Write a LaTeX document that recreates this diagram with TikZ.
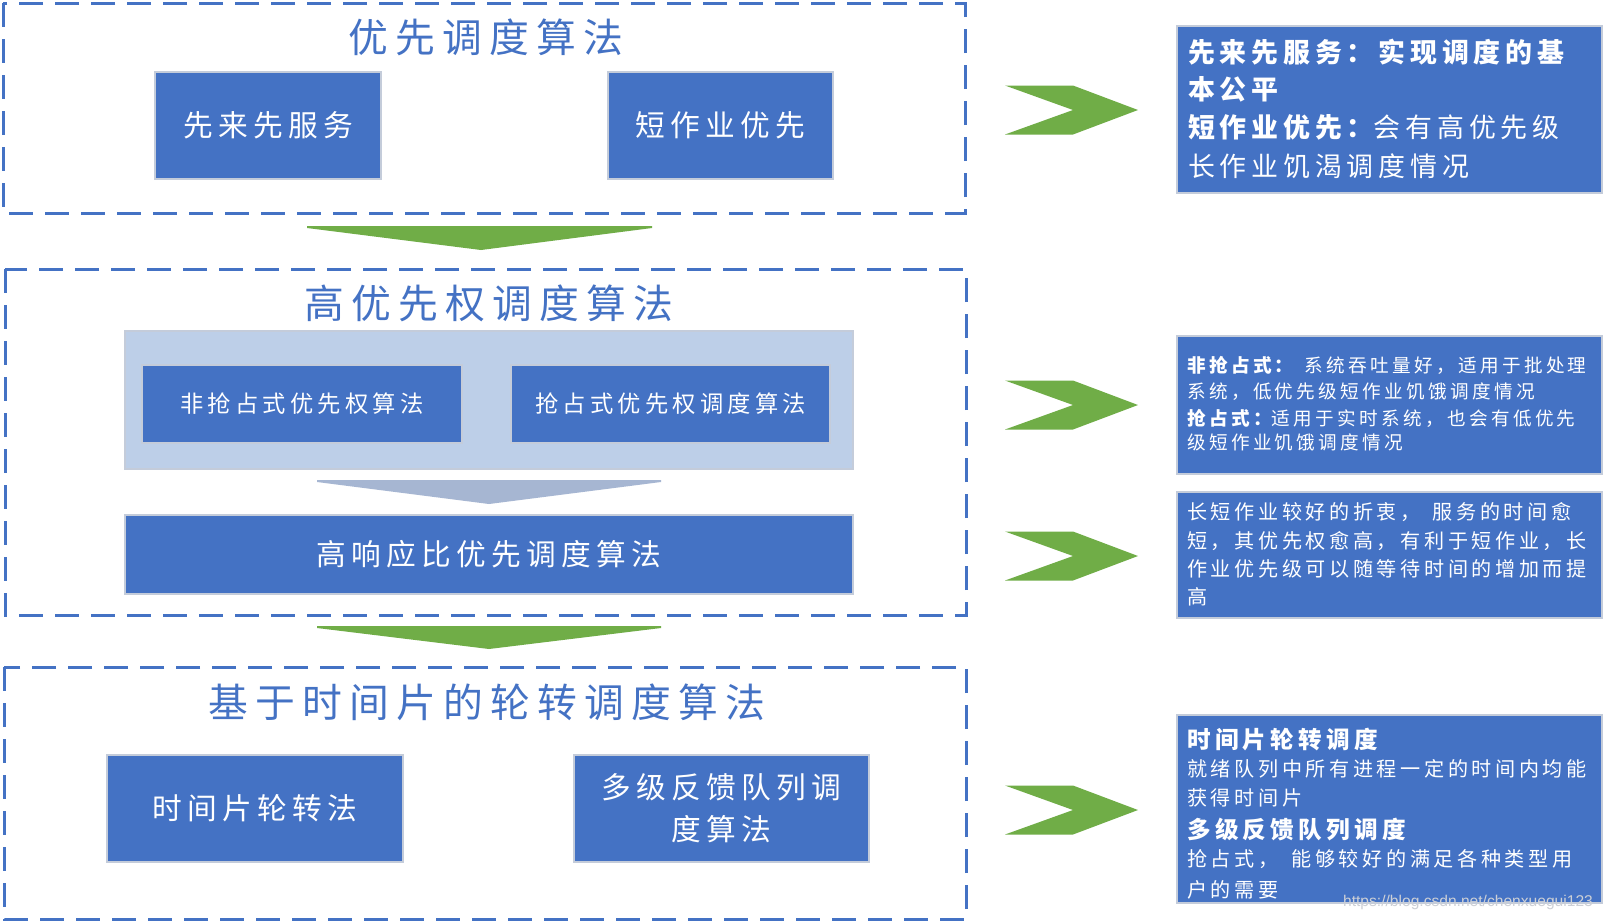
\documentclass[tikz,border=0pt]{standalone}
\usepackage{fontspec}
\newfontfamily\cjk[LetterSpace=18]{Noto Sans CJK SC}
\newfontfamily\wmfont{Liberation Sans}
\newcommand\myfs[1]{\fontsize{#1}{#1}\selectfont}
\definecolor{blueC}{HTML}{4472C4}
\definecolor{edgeC}{RGB}{196,204,218}
\definecolor{greenC}{HTML}{70AD47}
\definecolor{paleC}{RGB}{189,207,232}
\definecolor{grayArrow}{RGB}{166,182,210}
\tikzset{
  dashbox/.style={draw=blueC, line width=3pt, dash pattern=on 24pt off 12pt},
  bluebox/.style={fill=blueC, draw=edgeC, line width=1.2pt, inner sep=0pt, text=white},
  ttl/.style={text=blueC, inner sep=0pt, font=\cjk\myfs{39.8}},
  bigtxt/.style={font=\cjk\myfs{29.7}},
  midtxt/.style={font=\cjk\myfs{23.3}},
  chev/.style={fill=greenC},
  rline/.style={anchor=west, inner sep=0pt, text=white},
  rA/.style={rline, font=\cjk\myfs{26.9}},
  rB/.style={rline, font=\cjk\myfs{18.6}},
  rC/.style={rline, font=\cjk\myfs{20.1}},
  rH/.style={rline, font=\cjk\bfseries\myfs{23.6}},
}
\begin{document}
\begin{tikzpicture}[x=1pt,y=-1pt]
\useasboundingbox (0,0) rectangle (1605,922);
\fill[white] (0,0) rectangle (1605,922);

% dashed groups
\draw[dashbox] (3,3) rectangle (965,213);
\draw[dashbox] (5,269) rectangle (966,615);
\draw[dashbox] (4,667) rectangle (966,919);

% titles
\node[ttl] (t1) at (486,37) {优先调度算法};
\node[ttl] (t2) at (489,303) {高优先权调度算法};
\node[ttl] (t3) at (487,702) {基于时间片的轮转调度算法};

% group 1
\node[bluebox, bigtxt, minimum width=226pt, minimum height=107pt] (fcfs) at (268,125.5) {先来先服务};
\node[bluebox, bigtxt, minimum width=225pt, minimum height=107pt] (sjf) at (720.5,125.5) {短作业优先};

% arrow 1
\fill[greenC] (307,226) -- (652,226) -- (652,228) -- (481,250) -- (307,228) -- cycle;

% group 2
\node[fill=paleC, draw=edgeC, line width=1.2pt, minimum width=728pt, minimum height=138pt, inner sep=0pt] (panel) at (489,400) {};
\node[bluebox, midtxt, minimum width=320pt, minimum height=78pt] (np) at (302,404) {非抢占式优先权算法};
\node[bluebox, midtxt, minimum width=319pt, minimum height=78pt] (pp) at (670.5,404) {抢占式优先权调度算法};
\fill[grayArrow] (317,480) -- (661,480) -- (661,482) -- (489,504) -- (317,482) -- cycle;
\node[bluebox, bigtxt, minimum width=728pt, minimum height=79pt] (hrrn) at (489,554.5) {高响应比优先调度算法};

% arrow 2
\fill[greenC] (317,626) -- (661,626) -- (661,628) -- (489,649) -- (317,628) -- cycle;

% group 3
\node[bluebox, bigtxt, minimum width=296pt, minimum height=107pt] (rr) at (255,808.5) {时间片轮转法};
\node[bluebox, bigtxt, minimum width=295pt, minimum height=107pt, align=center] (mlfq) at (721.5,808.5) {多级反馈队列调\\[12pt]度算法};

% chevrons
\foreach \yc in {110,405,556,810}{
  \fill[chev] (1005,\yc-24.5) -- (1073,\yc-24.5) -- (1138,\yc) -- (1073,\yc+24.5) -- (1005,\yc+24.5) -- (1073,\yc) -- cycle;
}

% right boxes
\node[bluebox, minimum width=425pt, minimum height=167pt] (R1) at (1389.5,109.5) {};
\node[bluebox, minimum width=425pt, minimum height=138pt] (R2) at (1389.5,405) {};
\node[bluebox, minimum width=425pt, minimum height=126pt] (R3) at (1389.5,555) {};
\node[bluebox, minimum width=425pt, minimum height=188pt] (R4) at (1389.5,809) {};

\node[rA] (r1a) at (1188,52.5) {\bfseries 先来先服务：实现调度的基};
\node[rA] (r1b) at (1188,89) {\bfseries 本公平};
\node[rA] (r1c) at (1188,127) {{\bfseries 短作业优先：}会有高优先级};
\node[rA] (r1d) at (1188,166) {长作业饥渴调度情况};

\node[rB] (r2a) at (1187,365) {{\bfseries 非抢占式：}\hspace{11pt}系统吞吐量好，适用于批处理};
\node[rB] (r2b) at (1187,392) {系统，低优先级短作业饥饿调度情况};
\node[rB] (r2c) at (1187,418) {{\bfseries 抢占式：}适用于实时系统，也会有低优先};
\node[rB] (r2d) at (1187,442) {级短作业饥饿调度情况};

\node[rC] (r3a) at (1187,512) {长短作业较好的折衷，\hspace{12pt}服务的时间愈};
\node[rC] (r3b) at (1187,541) {短，其优先权愈高，有利于短作业，长};
\node[rC] (r3c) at (1187,569) {作业优先级可以随等待时间的增加而提};
\node[rC] (r3d) at (1187,597) {高};

\node[rH] (r4a) at (1187,740) {时间片轮转调度};
\node[rC] (r4b) at (1187,769) {就绪队列中所有进程一定的时间内均能};
\node[rC] (r4c) at (1187,798) {获得时间片};
\node[rH] (r4d) at (1187,830) {多级反馈队列调度};
\node[rC] (r4e) at (1187,859) {抢占式，\hspace{13pt}能够较好的满足各种类型用};
\node[rC] (r4f) at (1187,890) {户的需要};

\node[font=\wmfont\myfs{15.6}, text={rgb,255:red,205;green,208;blue,214}, inner sep=0pt] (wm) at (1468,902) {https://blog.csdn.net/chenxuegui123};
\end{tikzpicture}
\end{document}
